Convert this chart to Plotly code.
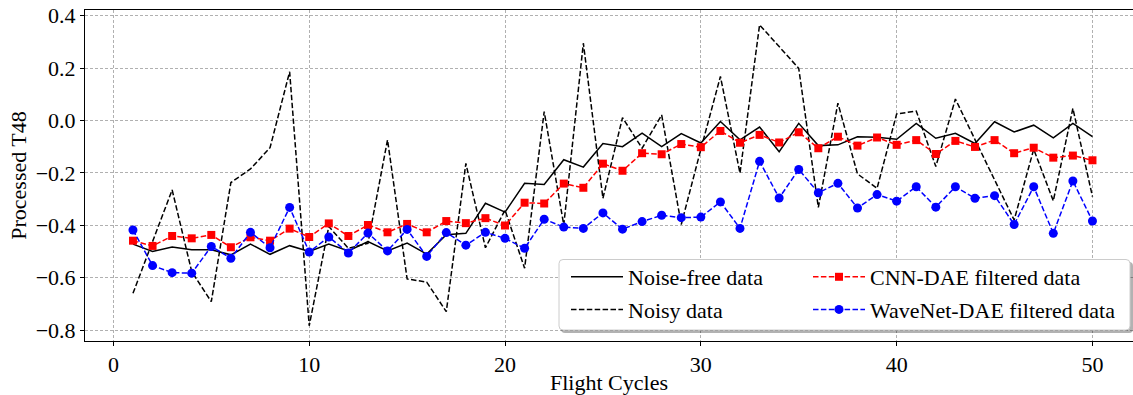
import plotly.graph_objects as go

cycles = list(range(1, 51))

noise_free = [-0.472, -0.500, -0.483, -0.494, -0.494, -0.513, -0.472, -0.511, -0.478, -0.500,
              -0.472, -0.498, -0.462, -0.498, -0.468, -0.510, -0.436, -0.431, -0.316, -0.350,
              -0.240, -0.244, -0.150, -0.178, -0.088, -0.100, -0.048, -0.100, -0.050, -0.086,
              -0.004, -0.074, -0.025, -0.119, -0.011, -0.096, -0.093, -0.062, -0.064, -0.072,
              -0.011, -0.068, -0.049, -0.088, -0.005, -0.044, -0.018, -0.066, -0.011, -0.062]

noisy = [-0.660, -0.463, -0.265, -0.577, -0.692, -0.237, -0.185, -0.104, 0.186, -0.784,
         -0.405, -0.488, -0.469, -0.074, -0.605, -0.617, -0.730, -0.164, -0.486, -0.342,
         -0.564, 0.034, -0.399, 0.295, -0.297, 0.011, -0.106, 0.021, -0.397, -0.110,
         0.168, -0.201, 0.365, 0.282, 0.199, -0.332, 0.066, -0.204, -0.259, 0.025,
         0.036, -0.176, 0.082, -0.073, -0.228, -0.380, -0.110, -0.307, 0.046, -0.291]

cnn_dae = [-0.459, -0.479, -0.441, -0.450, -0.437, -0.484, -0.446, -0.459, -0.413, -0.445,
           -0.393, -0.441, -0.399, -0.427, -0.395, -0.427, -0.384, -0.392, -0.373, -0.401,
           -0.314, -0.317, -0.241, -0.257, -0.165, -0.192, -0.125, -0.129, -0.090, -0.102,
           -0.040, -0.085, -0.055, -0.084, -0.045, -0.106, -0.062, -0.096, -0.065, -0.093,
           -0.075, -0.128, -0.078, -0.101, -0.075, -0.125, -0.104, -0.142, -0.134, -0.152]

wavenet_dae = [-0.418, -0.554, -0.581, -0.583, -0.481, -0.526, -0.427, -0.486, -0.332, -0.502,
               -0.445, -0.506, -0.430, -0.498, -0.416, -0.519, -0.428, -0.476, -0.427, -0.450,
               -0.488, -0.377, -0.407, -0.412, -0.353, -0.415, -0.386, -0.362, -0.371, -0.369,
               -0.311, -0.412, -0.156, -0.296, -0.187, -0.276, -0.240, -0.334, -0.283, -0.308,
               -0.253, -0.331, -0.253, -0.297, -0.287, -0.397, -0.253, -0.431, -0.231, -0.384]

x_ticks = [0, 10, 20, 30, 40, 50]
y_ticks = [0.4, 0.2, 0.0, -0.2, -0.4, -0.6, -0.8]

FONT = "Liberation Serif"
FS = 22
DASH = "5.5px,2.4px"

fig = go.Figure()
fig.add_trace(go.Scatter(x=cycles, y=noise_free, mode="lines", name="Noise-free data",
                         line=dict(color="black", width=1.5), legend="legend",
                         legendgroup="a"))
fig.add_trace(go.Scatter(x=cycles, y=noisy, mode="lines", name="Noisy data",
                         line=dict(color="black", width=1.5, dash=DASH), legend="legend",
                         legendgroup="b"))
fig.add_trace(go.Scatter(x=cycles, y=cnn_dae, mode="lines+markers", name="CNN-DAE filtered data",
                         line=dict(color="#ff0000", width=1.5, dash=DASH),
                         marker=dict(symbol="square", size=8, color="#ff0000"),
                         legend="legend2", legendgroup="c"))
fig.add_trace(go.Scatter(x=cycles, y=wavenet_dae, mode="lines+markers", name="WaveNet-DAE filtered data",
                         line=dict(color="#0000ff", width=1.5, dash=DASH),
                         marker=dict(symbol="circle", size=9, color="#0000ff"),
                         legend="legend2", legendgroup="d"))

W, H = 1133, 395
L, R, T, B = 85, 0, 10, 54
pw, ph = W - L - R, H - T - B


def px(xp):
    return (xp - L) / pw


def py(yp):
    return (H - B - yp) / ph


def rounded_rect(x0, y0, x1, y1, r):
    # pixel coords -> paper-coordinate SVG path with rounded corners
    X = px
    Y = py
    return (f"M {X(x0 + r)},{Y(y0)} L {X(x1 - r)},{Y(y0)} Q {X(x1)},{Y(y0)} {X(x1)},{Y(y0 + r)} "
            f"L {X(x1)},{Y(y1 - r)} Q {X(x1)},{Y(y1)} {X(x1 - r)},{Y(y1)} "
            f"L {X(x0 + r)},{Y(y1)} Q {X(x0)},{Y(y1)} {X(x0)},{Y(y1 - r)} "
            f"L {X(x0)},{Y(y0 + r)} Q {X(x0)},{Y(y0)} {X(x0 + r)},{Y(y0)} Z")


legend_common = dict(orientation="v", bgcolor="rgba(0,0,0,0)", borderwidth=0,
                     font=dict(family=FONT, size=FS, color="black"),
                     tracegroupgap=1, itemwidth=52, yanchor="top", xanchor="left")

fig.update_layout(
    width=W, height=H,
    margin=dict(l=L, r=R, t=T, b=B),
    paper_bgcolor="white", plot_bgcolor="white",
    font=dict(family=FONT, size=FS, color="black"),
    showlegend=True,
    legend=dict(legend_common, x=px(566), y=py(256)),
    legend2=dict(legend_common, x=px(808), y=py(256)),
    shapes=[
        dict(type="path", xref="paper", yref="paper", path=rounded_rect(561, 262, 1133, 333, 4),
             fillcolor="rgba(0,0,0,0.3)", line=dict(width=0), layer="above"),
        dict(type="path", xref="paper", yref="paper", path=rounded_rect(559, 259.5, 1130, 330, 4),
             fillcolor="white", line=dict(color="#cccccc", width=1), layer="above"),
    ],
)

fig.update_xaxes(range=[-1.45, 52.07], tickvals=x_ticks, ticktext=[str(v) for v in x_ticks],
                 showline=True, linecolor="black", linewidth=1, mirror=True,
                 ticks="outside", ticklen=4, tickcolor="black",
                 showgrid=True, gridcolor="#b0b0b0", griddash="3px,2px", gridwidth=0.8,
                 zeroline=False, tickfont=dict(family=FONT, size=FS),
                 title=dict(text="Flight Cycles", font=dict(family=FONT, size=FS), standoff=3))
fig.update_yaxes(range=[-0.842, 0.4218], tickvals=y_ticks, tickformat=".1f",
                 showline=True, linecolor="black", linewidth=1, mirror=True,
                 ticks="outside", ticklen=4, tickcolor="black",
                 showgrid=True, gridcolor="#b0b0b0", griddash="3px,2px", gridwidth=0.8,
                 zeroline=False, tickfont=dict(family=FONT, size=FS),
                 title=dict(text="Processed T48", font=dict(family=FONT, size=FS), standoff=2))

fig.write_html("out.html")
